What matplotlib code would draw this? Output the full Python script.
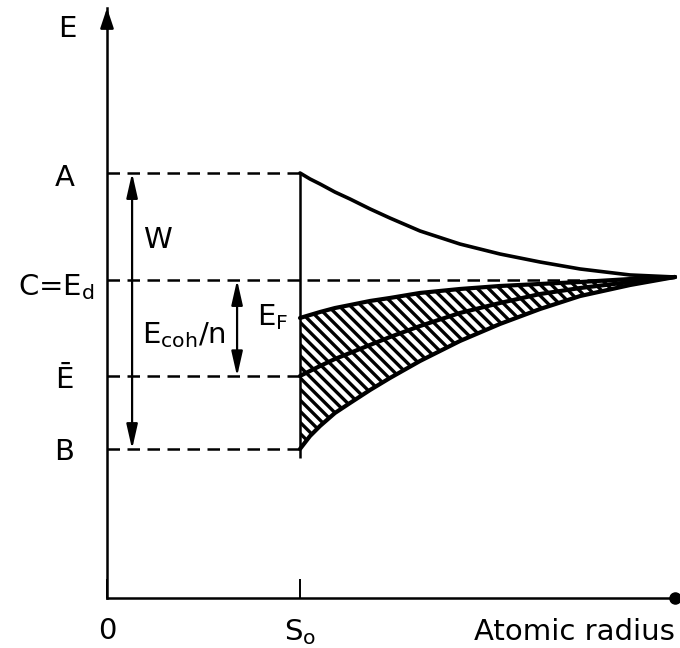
# -*- coding: utf-8 -*-
"""
Energy levels vs atomic radius (band broadening sketch)
"""

import matplotlib.pyplot as plt

#---------------Data---------------

# energy levels, C = E_d taken as zero
lvl_A = 1.0
lvl_C = 0.0
lvl_Ebar = -0.90
lvl_B = -1.58
S0 = 1.0
r_max = 2.943

# atomic radius samples (S0 = 1)
r = [1.000, 1.052, 1.104, 1.181, 1.259, 1.363, 1.466, 1.622, 1.829, 2.036, 2.244, 2.451, 2.710, 2.943]
# upper level curve (starts at A)
E_A = [1.000, 0.944, 0.897, 0.822, 0.757, 0.664, 0.579, 0.458, 0.336, 0.243, 0.168, 0.103, 0.047, 0.028]
# top of band (Fermi level side)
E_F = [-0.355, -0.327, -0.299, -0.262, -0.234, -0.196, -0.168, -0.121, -0.084, -0.056, -0.037, -0.019, 0.009, 0.028]
# band centre (starts at E bar)
E_mid = [-0.897, -0.850, -0.804, -0.738, -0.682, -0.607, -0.533, -0.430, -0.308, -0.215, -0.131, -0.075, -0.019, 0.028]
# bottom of band (starts at B)
E_bot = [-1.579, -1.458, -1.364, -1.243, -1.150, -1.028, -0.916, -0.757, -0.570, -0.411, -0.271, -0.150, -0.047, 0.028]

#---------------Figure---------------

plt.rcParams['font.family'] = 'DejaVu Sans'
plt.rcParams['hatch.linewidth'] = 2.4
fs = 21

fig = plt.figure(figsize=(6.8, 6.48), dpi=100)
ax = fig.add_axes([107/680, 50/648, 568/680, 590/648])
ax.set_xlim(0, r_max)
ax.set_ylim(-2.972, 2.542)

for s in ['top', 'right']:
    ax.spines[s].set_visible(False)
for s in ['left', 'bottom']:
    ax.spines[s].set_linewidth(1.8)

ax.set_yticks([])
ax.set_xticks([0, S0], ['0', 'S$_\\mathregular{o}$'])
ax.tick_params(axis='x', direction='in', length=14, width=1.4, pad=14, labelsize=fs)

# axis ends
ax.annotate('', xy=(0, 2.542), xytext=(0, 2.35), annotation_clip=False,
            arrowprops=dict(arrowstyle='-|>,head_length=0.6,head_width=0.2',
                            mutation_scale=20, color='k', lw=1.8, shrinkA=0, shrinkB=0))
ax.plot([r_max], [-2.972], 'o', color='k', ms=8, clip_on=False)

# dashed levels
dash = (0, (5, 3))
ax.hlines([lvl_A, lvl_Ebar, lvl_B], 0, S0, colors='k', lw=1.8, linestyles=[dash])
ax.hlines(lvl_C, 0, 2.6, colors='k', lw=1.8, linestyles=[dash])
ax.vlines(S0, lvl_B - 0.08, lvl_A, colors='k', lw=1.8)

# band
ax.fill_between(r, E_bot, E_F, facecolor='white', edgecolor='k', hatch='\\\\\\', linewidth=0)
ax.plot(r, E_A, color='k', lw=2.6, clip_on=False, solid_capstyle='round')
ax.plot(r, E_F, color='k', lw=3.0, clip_on=False, solid_capstyle='round')
ax.plot(r, E_mid, color='k', lw=3.0, clip_on=False, solid_capstyle='round')
ax.plot(r, E_bot, color='k', lw=3.0, clip_on=False, solid_capstyle='round')

# double arrows
arr = dict(arrowstyle='<|-|>,head_length=0.75,head_width=0.17',
           mutation_scale=20, color='k', lw=1.6, shrinkA=0, shrinkB=0)
ax.annotate('', xy=(0.130, lvl_A), xytext=(0.130, lvl_B), arrowprops=arr)
ax.annotate('', xy=(0.674, lvl_C), xytext=(0.674, lvl_Ebar), arrowprops=arr)

#---------------Labels---------------

ax.text(-0.207, 2.27, 'E', fontsize=fs, ha='center', va='baseline')
ax.text(-0.22, lvl_A - 0.12, 'A', fontsize=fs, ha='center', va='baseline')
ax.text(-0.062, lvl_C - 0.14, 'C=E$_\\mathregular{d}$', fontsize=fs, ha='right', va='baseline')
ax.text(-0.22, lvl_Ebar - 0.11, 'Ē', fontsize=fs, ha='center', va='baseline')
ax.text(-0.22, lvl_B - 0.10, 'B', fontsize=fs, ha='center', va='baseline')

ax.text(0.187, 0.30, 'W', fontsize=fs, ha='left', va='baseline')
ax.text(0.181, -0.589, 'E$_\\mathregular{coh}$/n', fontsize=fs, ha='left', va='baseline')
ax.text(0.777, -0.42, 'E$_\\mathregular{F}$', fontsize=fs, ha='left', va='baseline')

ax.text(r_max, -3.29, 'Atomic radius', fontsize=fs, ha='right', va='center')

fig.savefig('out.png', dpi=100)
